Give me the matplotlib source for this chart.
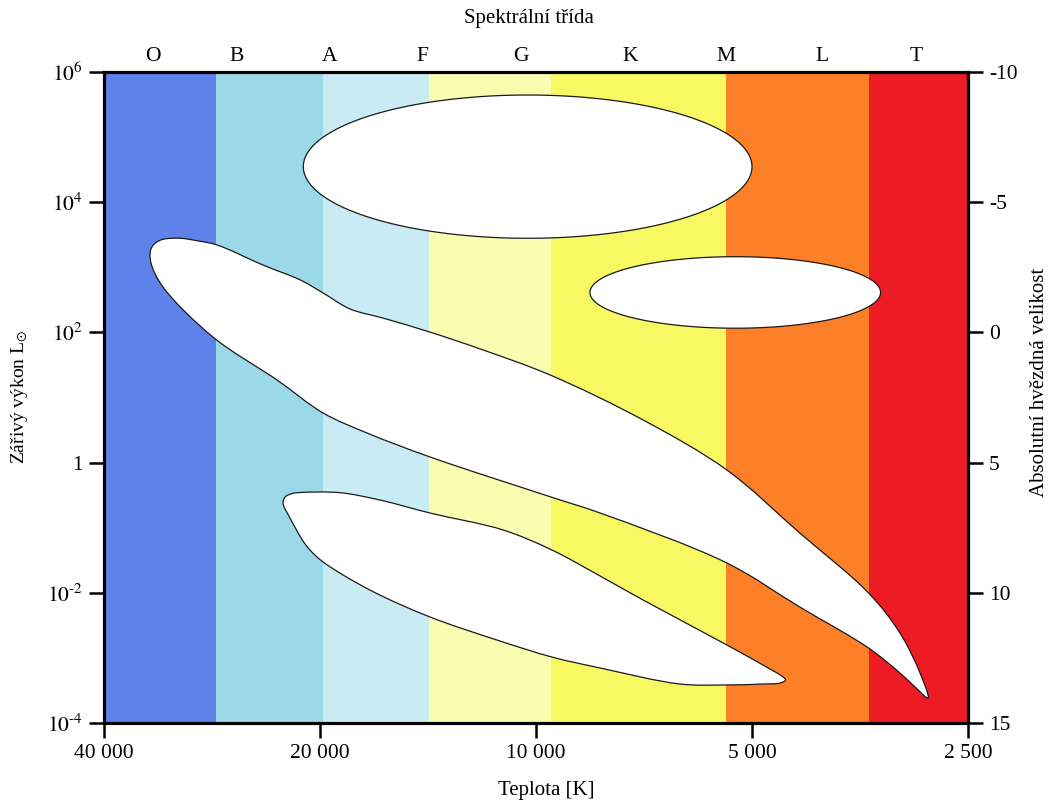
import numpy as np
import matplotlib
matplotlib.use("Agg")
import matplotlib.pyplot as plt
from matplotlib.path import Path
from matplotlib.patches import PathPatch, Polygon
from matplotlib.ticker import NullLocator

plt.rcParams['font.family'] = ['Liberation Serif', 'DejaVu Serif']
plt.rcParams['mathtext.fontset'] = 'stix'

# Spectral class bands: temperature edges (K) and fill colours
band_edges = [40000, 27900, 19800, 14100, 9530, 5430, 3440, 2500]
band_colors = ['#5F82EA', '#9BD9E9', '#C9EBF3', '#FAFCAF', '#F8F962', '#FD7F27', '#ED1C24']

spectral_classes = ['O', 'B', 'A', 'F', 'G', 'K', 'M', 'L', 'T']
spectral_label_T = [34200, 26100, 19400, 14400, 10500, 7400, 5430, 4000, 2950]

temp_ticks = [40000, 20000, 10000, 5000, 2500]
temp_labels = ['40 000', '20 000', '10 000', '5 000', '2 500']
lum_ticks = [1e-4, 1e-2, 1, 1e2, 1e4, 1e6]
lum_labels = [r'$10^{\text{-}4}$', r'$10^{\text{-}2}$', '1', r'$10^{2}$', r'$10^{4}$', r'$10^{6}$']
mag_ticks = [-10, -5, 0, 5, 10, 15]
mag_labels = ['-10', '-5', '0', '5', '10', '15']

# Supergiant and giant regions: temperature and luminosity extents
supergiant_T = (21100, 5000)
supergiant_L = (2790, 4.43e5)
giant_T = (8410, 3310)
giant_L = (116, 1455)

# Main sequence outline (upper edge hot -> cool, then lower edge back)
main_seq_T = [34440, 33960, 33100, 31340, 29680, 27830, 24000, 21300, 19800, 18160,
              16340, 14050, 11850, 9560, 7090, 5420, 4290, 3440, 3110,
              2916, 2842, 2963, 3110, 3440, 4290, 5420, 8140, 9530, 14050,
              17200, 19800, 22960, 28200, 33100, 34400]
main_seq_L = [1845, 2339, 2692, 2790, 2564, 2203, 1080, 638, 403, 229,
              166, 101, 53.7, 22.2, 4.51, 0.769, 0.0830, 0.00993, 0.00241,
              0.000586, 0.000242, 0.000357, 0.000586, 0.00142, 0.00605, 0.0287, 0.168, 0.296, 1.22,
              2.85, 5.78, 18.6, 84.9, 498, 1164]

# White dwarf outline
white_dwarf_T = [22520, 22370, 21870, 21330, 18760, 16500, 14050, 11110, 9500, 8140,
                 7090, 5420, 4720, 4545, 4490, 4570, 4830, 5420, 6300, 8140,
                 9500, 11230, 14050, 17030, 19800, 20650, 21120, 22020]
white_dwarf_L = [0.239, 0.296, 0.335, 0.347, 0.345, 0.266, 0.168, 0.0922, 0.0454, 0.0181,
                 0.00774, 0.00158, 0.000675, 0.000527, 0.000457, 0.000411, 0.000397, 0.000384, 0.000397, 0.000700,
                 0.00103, 0.00182, 0.00425, 0.0110, 0.0297, 0.0454, 0.0625, 0.141]

# log-decade lengths of the two axes relative to each other (T decade is ~11x longer)
ASPECT = np.array([717.5, 65.1])


def smooth_outline(T, L, alpha=0.5):
    """Closed centripetal Catmull-Rom curve through the outline points, in log space."""
    p = np.column_stack([np.log10(T), np.log10(L)]) * ASPECT
    n = len(p)
    verts = [p[0]]
    codes = [Path.MOVETO]
    for i in range(n):
        p0, p1, p2, p3 = p[i - 1], p[i], p[(i + 1) % n], p[(i + 2) % n]
        d0 = np.linalg.norm(p1 - p0) ** alpha
        d1 = np.linalg.norm(p2 - p1) ** alpha
        d2 = np.linalg.norm(p3 - p2) ** alpha
        m1 = (p1 - p0) / d0 - (p2 - p0) / (d0 + d1) + (p2 - p1) / d1
        m2 = (p2 - p1) / d1 - (p3 - p1) / (d1 + d2) + (p3 - p2) / d2
        verts += [p1 + m1 * d1 / 3, p2 - m2 * d1 / 3, p2]
        codes += [Path.CURVE4] * 3
    verts.append(p[0])
    codes.append(Path.CLOSEPOLY)
    return Path(10 ** (np.array(verts) / ASPECT), codes)


def ellipse_outline(T_range, L_range, n=360):
    """Ellipse spanning the given ranges on the log-log axes."""
    lt = np.log10(T_range)
    ll = np.log10(L_range)
    a = np.linspace(0, 2 * np.pi, n, endpoint=False)
    x = lt.mean() + (lt[1] - lt[0]) / 2 * np.cos(a)
    y = ll.mean() + (ll[1] - ll[0]) / 2 * np.sin(a)
    return np.column_stack([10 ** x, 10 ** y])


fig = plt.figure(figsize=(10.56, 8.05), dpi=100)
ax = fig.add_axes([104 / 1056, 1 - 723 / 805, 864 / 1056, 651 / 805])
ax.set_xscale('log')
ax.set_yscale('log')
ax.set_xlim(40000, 2500)
ax.set_ylim(1e-4, 1e6)

for lo, hi, c in zip(band_edges[:-1], band_edges[1:], band_colors):
    ax.axvspan(lo, hi, color=c, lw=0, zorder=0)

edge_kw = dict(facecolor='white', edgecolor='#1a1a1a', lw=0.9, zorder=2)
ax.add_patch(Polygon(ellipse_outline(supergiant_T, supergiant_L), closed=True, **edge_kw))
ax.add_patch(Polygon(ellipse_outline(giant_T, giant_L), closed=True, **edge_kw))
ax.add_patch(PathPatch(smooth_outline(main_seq_T, main_seq_L), **edge_kw))
ax.add_patch(PathPatch(smooth_outline(white_dwarf_T, white_dwarf_L), **edge_kw))

tick_fs = 15.5
ax.set_xticks(temp_ticks, labels=temp_labels)
ax.set_yticks(lum_ticks, labels=lum_labels)
ax.xaxis.set_minor_locator(NullLocator())
ax.yaxis.set_minor_locator(NullLocator())
ax.tick_params(axis='both', direction='out', length=11, width=1.8,
               labelsize=tick_fs, pad=4, top=False, right=False)

# Absolute magnitude on the right
ax2 = ax.twinx()
ax2.set_yscale('log')
ax2.set_ylim(ax.get_ylim())
ax2.set_yticks([10 ** ((5 - m) / 2.5) for m in mag_ticks], labels=mag_labels)
ax2.yaxis.set_minor_locator(NullLocator())
ax2.tick_params(axis='y', direction='out', length=11, width=1.8,
                labelsize=tick_fs, pad=4)

# Spectral classes along the top
ax3 = ax.twiny()
ax3.set_xscale('log')
ax3.set_xlim(ax.get_xlim())
ax3.set_xticks(spectral_label_T, labels=spectral_classes)
ax3.xaxis.set_minor_locator(NullLocator())
ax3.tick_params(axis='x', length=0, labelsize=tick_fs, pad=4)

for a in (ax, ax2, ax3):
    for s in a.spines.values():
        s.set_linewidth(2.2)
        s.set_color('black')

fig.text(546 / 1056, 1 - 790 / 805, 'Teplota [K]', ha='center', va='center', fontsize=15)
fig.text(529 / 1056, 1 - 18 / 805, 'Spektrální třída', ha='center', va='center', fontsize=15)
fig.text(20 / 1056, 1 - 397 / 805, r'Zářivý výkon L$_{\odot}$', rotation=90,
         ha='center', va='center', fontsize=14)
fig.text(1040 / 1056, 1 - 382 / 805, 'Absolutní hvězdná velikost', rotation=90,
         ha='center', va='center', fontsize=15)

fig.savefig('out.png', dpi=100)
